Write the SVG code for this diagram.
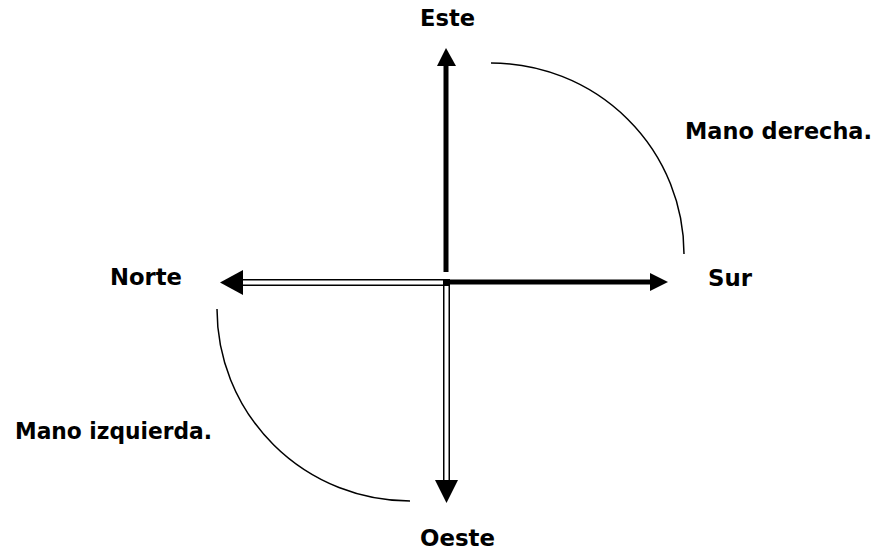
<svg xmlns="http://www.w3.org/2000/svg" width="876" height="552" viewBox="0 0 876 552">
<style>
.lbl{font-family:"Comic Sans MS","DejaVu Sans",sans-serif;font-weight:bold;font-size:23px;fill:#000}
.arc{fill:none;stroke:#000;stroke-width:1.5}
.thick{stroke:#000;stroke-width:5;fill:none}
.dblo{stroke:#000;stroke-width:7;fill:none}
.dbli{stroke:#fff;stroke-width:4;fill:none}
.head{fill:#000}
</style>
<rect width="876" height="552" fill="#fff"/>
<g id="connectors">
<g id="arrow-norte">
<line class="dblo" x1="447" y1="282.5" x2="240" y2="282.5"/>
<line class="dbli" x1="443" y1="282.5" x2="238" y2="282.5"/>
<polygon class="head" points="220,282.5 243,270 243,295"/>
</g>
<g id="arrow-oeste">
<line class="dblo" x1="446.5" y1="279" x2="446.5" y2="482"/>
<line class="dbli" x1="446.5" y1="286" x2="446.5" y2="482"/>
<polygon class="head" points="446.5,503 435,480 458,480"/>
</g>
<g id="arrow-este">
<line class="thick" x1="446" y1="272" x2="446" y2="63"/>
<polygon class="head" points="446,48 437,66 456,66"/>
</g>
<g id="arrow-sur">
<line class="thick" x1="443" y1="282" x2="652" y2="282"/>
<polygon class="head" points="668,282 650,273 650,291"/>
</g>
<path id="arc-derecha" class="arc" d="M491,63 A193,191 0 0 1 684,254"/>
<path id="arc-izquierda" class="arc" d="M217,309 A193,192 0 0 0 410,501"/>
</g>
<g id="node-este"><text class="lbl" x="420" y="26" textLength="55" lengthAdjust="spacingAndGlyphs">Este</text></g>
<g id="node-norte"><text class="lbl" x="110" y="285" textLength="72" lengthAdjust="spacingAndGlyphs">Norte</text></g>
<g id="node-sur"><text class="lbl" x="708" y="286" textLength="44" lengthAdjust="spacingAndGlyphs">Sur</text></g>
<g id="node-oeste"><text class="lbl" x="420" y="546" textLength="75" lengthAdjust="spacingAndGlyphs">Oeste</text></g>
<g id="node-derecha"><text class="lbl" x="685" y="139" textLength="187" lengthAdjust="spacingAndGlyphs">Mano derecha.</text></g>
<g id="node-izquierda"><text class="lbl" x="15" y="439" textLength="197" lengthAdjust="spacingAndGlyphs">Mano izquierda.</text></g>
</svg>
